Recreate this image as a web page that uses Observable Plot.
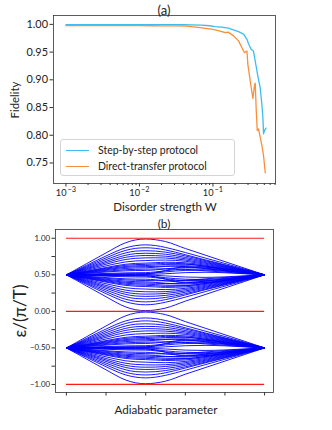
<!DOCTYPE html>
<html><head><meta charset="utf-8">
<script src="https://cdn.jsdelivr.net/npm/d3@7"></script>
<script src="https://cdn.jsdelivr.net/npm/@observablehq/plot@0.6"></script>
<style>
html,body{margin:0;padding:0;background:#fff;}
#wrap{position:relative;width:332px;height:430px;font-family:Lato,"DejaVu Sans",sans-serif;color:#222;overflow:hidden;}
.lbl{position:absolute;white-space:nowrap;transform:translate(-50%,-50%);line-height:1;}
.rot{transform:translate(-50%,-50%) rotate(-90deg);}
#chartA,#chartB{position:absolute;left:0;}
#chartA{top:0}
#chartB{top:215px}
.legend{position:absolute;left:60px;top:139px;width:173px;height:35px;border:1px solid #d5d5d5;border-radius:3px;background:rgba(255,255,255,0.85);}
.legend .row{position:absolute;left:0;height:16px;display:flex;align-items:center;line-height:1;white-space:nowrap;}
.legend .sw{display:inline-block;width:23px;height:0;border-top:1.5px solid;margin-left:5px;margin-right:9px;}
</style>
</head><body>
<div id="wrap">
  <div id="chartA"></div>
  <div id="chartB"></div>
</div>
<script>
// ---------- Panel (a) data ----------
const seriesNames = ["Step-by-step protocol", "Direct-transfer protocol"];
const seriesColors = ["#3dbcf1", "#f98f3d"];
const stepW = [0.001,0.0015,0.002,0.003,0.005,0.007,0.01,0.015,0.02,0.03,0.04,0.05,0.07,0.09,0.107,0.13,0.163,0.19,0.223,0.261,0.29,0.305,0.332,0.356,0.376,0.409,0.44,0.464,0.479,0.488,0.503,0.526];
const stepF = [0.9996,0.9996,0.9996,0.9996,0.9996,0.9996,0.9996,0.9996,0.9995,0.9994,0.9993,0.9991,0.9985,0.9975,0.9958,0.995,0.9932,0.990,0.987,0.9823,0.9731,0.9652,0.9548,0.9519,0.9336,0.9062,0.8848,0.8542,0.8299,0.8025,0.8085,0.8129];
const directW = [0.001,0.0015,0.002,0.003,0.005,0.007,0.01,0.015,0.02,0.03,0.044,0.067,0.1,0.125,0.147,0.161,0.191,0.223,0.248,0.269,0.29,0.299,0.315,0.332,0.35,0.368,0.376,0.389,0.401,0.417,0.44,0.464,0.488,0.515];
const directF = [0.9976,0.9976,0.9976,0.9976,0.9976,0.9976,0.9976,0.9975,0.9974,0.9972,0.997,0.994,0.991,0.988,0.985,0.986,0.9793,0.9702,0.9579,0.9488,0.9519,0.9274,0.9062,0.8848,0.8665,0.8908,0.8939,0.8421,0.8085,0.8116,0.7964,0.7811,0.7628,0.7324];
const xTicksA = [1e-3, 1e-2, 1e-1];
const xMinorA = [2e-3,3e-3,4e-3,5e-3,6e-3,7e-3,8e-3,9e-3,2e-2,3e-2,4e-2,5e-2,6e-2,7e-2,8e-2,9e-2,0.2,0.3,0.4,0.5,0.6,0.7];
const yTicksA = [0.75, 0.80, 0.85, 0.90, 0.95, 1.00];

// ---------- Panel (b) data ----------
const adiabaticX = [0, 0.1, 0.2, 0.3, 0.35, 0.4, 0.45, 0.5, 0.6, 0.7, 0.8, 0.9, 1.0];
const bandCenters = [0.5, -0.5];
const halfWidths = [
  [0, .150, .300, .440, .478, .490, .480, .455, .360, .270, .180, .090, 0],
  [0, .128, .258, .370, .400, .410, .400, .375, .305, .230, .155, .078, 0],
  [0, .115, .232, .335, .362, .370, .362, .340, .275, .205, .138, .070, 0],
  [0, .103, .208, .300, .325, .330, .325, .310, .258, .195, .130, .065, 0],
  [0, .092, .185, .268, .290, .295, .292, .282, .238, .182, .122, .061, 0],
  [0, .082, .165, .240, .258, .264, .262, .255, .220, .170, .114, .057, 0],
  [0, .072, .145, .210, .226, .232, .233, .230, .202, .158, .106, .053, 0],
  [0, .061, .122, .177, .190, .195, .200, .202, .185, .145, .098, .049, 0],
  [0, .050, .100, .145, .156, .160, .166, .172, .165, .132, .090, .045, 0],
  [0, .045, .090, .130, .140, .143, .150, .158, .150, .118, .080, .040, 0],
  [0, .040, .080, .115, .124, .127, .134, .142, .145, .120, .082, .041, 0],
  [0, .035, .070, .102, .110, .112, .116, .120, .112, .085, .057, .028, 0],
  [0, .030, .060, .087, .094, .096, .104, .115, .125, .107, .074, .037, 0],
  [0, .024, .048, .070, .075, .078, .080, .082, .075, .055, .037, .018, 0],
  [0, .019, .038, .055, .059, .060, .068, .082, .100, .092, .065, .033, 0],
  [0, .010, .019, .027, .029, .030, .040, .055, .078, .078, .056, .028, 0],
  [0, .005, .010, .015, .016, .016, .025, .040, .060, .065, .048, .024, 0],
  [0, .003, .006, .009, .010, .012, .030, .060, .110, .105, .072, .036, 0],
  [0, .001, .002, .003, .003, .004, .008, .015, .030, .035, .028, .014, 0]
];
const boundaryLevels = [1, 0, -1];
const yTicksB = [-1, -0.75, -0.5, -0.25, 0, 0.25, 0.5, 0.75, 1];
const xTicksB = [0, 0.2, 0.4, 0.6, 0.8, 1.0];

// ---------- font fitting helper (sizes chosen so text widths match the reference) ----------
const fontStack = 'Lato, "DejaVu Sans", sans-serif';
const ctx = document.createElement("canvas").getContext("2d");
function fit(text, target) {
  ctx.font = "20px " + fontStack;
  const w = ctx.measureText(text).width;
  return w > 0 ? 20 * target / w : 12;
}
const baseStyle = {fontFamily: fontStack, fontSize: "10px", color: "#222", background: "transparent", overflow: "visible"};
const yTickSizeA = fit("1.00", 21.5);
const yTickSizeB = fit("1.00", 15.5);
const xTickSizeA = fit("10", 10.7);

// ---------- Panel (a) ----------
const rowsA = [];
stepW.forEach((w, i) => rowsA.push({w, f: stepF[i], s: seriesNames[0]}));
directW.forEach((w, i) => rowsA.push({w, f: directF[i], s: seriesNames[1]}));

const chartA = Plot.plot({
  width: 332, height: 215,
  marginTop: 15, marginBottom: 32, marginLeft: 53, marginRight: 57,
  style: baseStyle,
  x: {type: "log", domain: [10 ** -3.169, 10 ** -0.149], label: null},
  y: {domain: [0.713, 1.016], label: null},
  color: {domain: seriesNames, range: seriesColors},
  marks: [
    Plot.line(rowsA, {x: "w", y: "f", z: "s", stroke: "s", strokeWidth: 1.3}),
    Plot.frame({stroke: "#333", strokeWidth: 0.8}),
    Plot.axisY(yTicksA, {tickSize: 3.5, tickPadding: 2, fontSize: yTickSizeA, tickFormat: d3.format(".2f"), label: null, stroke: "#333"}),
    Plot.axisX(xMinorA, {tickSize: 2, tickFormat: () => "", label: null, stroke: "#333"}),
    Plot.axisX(xTicksA, {tickSize: 3.5, tickPadding: 2.5, fontSize: xTickSizeA, tickFormat: d => "10^" + Math.round(Math.log10(d)), label: null, stroke: "#333"})
  ]
});
document.getElementById("chartA").append(chartA);

// superscript exponents
const ns = "http://www.w3.org/2000/svg";
chartA.querySelectorAll("text").forEach(t => {
  const s = t.textContent;
  if (!s.startsWith("10^")) return;
  const e = s.slice(3).replace("-", "\u2212");
  while (t.firstChild) t.removeChild(t.firstChild);
  const a = document.createElementNS(ns, "tspan"); a.textContent = "10";
  const b = document.createElementNS(ns, "tspan");
  b.setAttribute("dy", "-0.55em"); b.setAttribute("font-size", "0.8em");
  b.textContent = "\u2009" + e;
  t.append(a, b);
});

// ---------- Panel (b) ----------
const spectrum = [];
bandCenters.forEach((c, bi) => halfWidths.forEach((hw, ci) => [1, -1].forEach(sg =>
  adiabaticX.forEach((x, i) => spectrum.push({x, y: c + sg * hw[i], id: bi + "-" + ci + "-" + sg})))));

const fmtB = d3.format(".2f");
const chartB = Plot.plot({
  width: 332, height: 215,
  marginTop: 14, marginBottom: 38, marginLeft: 55, marginRight: 59,
  style: baseStyle,
  x: {domain: [-0.055, 1.045], label: null},
  y: {domain: [-1.11, 1.12], label: null},
  marks: [
    Plot.line(spectrum, {x: "x", y: "y", z: "id", stroke: "#0000ff", strokeWidth: 0.9, curve: "monotone-x"}),
    Plot.ruleY(boundaryLevels, {y: d => d, x1: () => adiabaticX[0], x2: () => adiabaticX[adiabaticX.length - 1], stroke: "#ff1a1a", strokeWidth: 1.2}),
    Plot.frame({stroke: "#333", strokeWidth: 0.8}),
    Plot.axisY(yTicksB, {tickSize: 3.5, tickPadding: 2, fontSize: yTickSizeB, tickFormat: d => Math.abs(d * 2 - Math.round(d * 2)) < 1e-9 ? fmtB(d) : "", label: null, stroke: "#333"}),
    Plot.axisX(xTicksB, {tickSize: 3.5, tickFormat: () => "", label: null, stroke: "#333"})
  ]
});
document.getElementById("chartB").append(chartB);

// ---------- Text labels & legend ----------
const wrap = document.getElementById("wrap");
function label(txt, x, y, target, rot) {
  const d = document.createElement("div");
  d.className = "lbl" + (rot ? " rot" : "");
  d.style.left = x + "px"; d.style.top = y + "px"; d.style.fontSize = fit(txt, target).toFixed(2) + "px";
  d.textContent = txt;
  wrap.append(d);
}
label("(a)", 164, 11, 13);
label("Fidelity", 15, 100, 37, true);
label("Disorder strength W", 165, 207, 104);
label("(b)", 164, 224, 12.7);
label("\u03b5/(\u03c0/T)", 20, 311, 53, true);
label("Adiabatic parameter", 166, 410, 103);

const leg = document.createElement("div");
leg.className = "legend";
leg.style.fontSize = fit(seriesNames[1], 109).toFixed(2) + "px";
seriesNames.forEach((n, i) => {
  const r = document.createElement("div");
  r.className = "row";
  r.style.top = (i === 0 ? 2 : 18) + "px";
  const sw = document.createElement("span"); sw.className = "sw"; sw.style.borderTopColor = seriesColors[i];
  const tx = document.createElement("span"); tx.textContent = n;
  r.append(sw, tx);
  leg.append(r);
});
wrap.append(leg);
</script>
</body></html>
